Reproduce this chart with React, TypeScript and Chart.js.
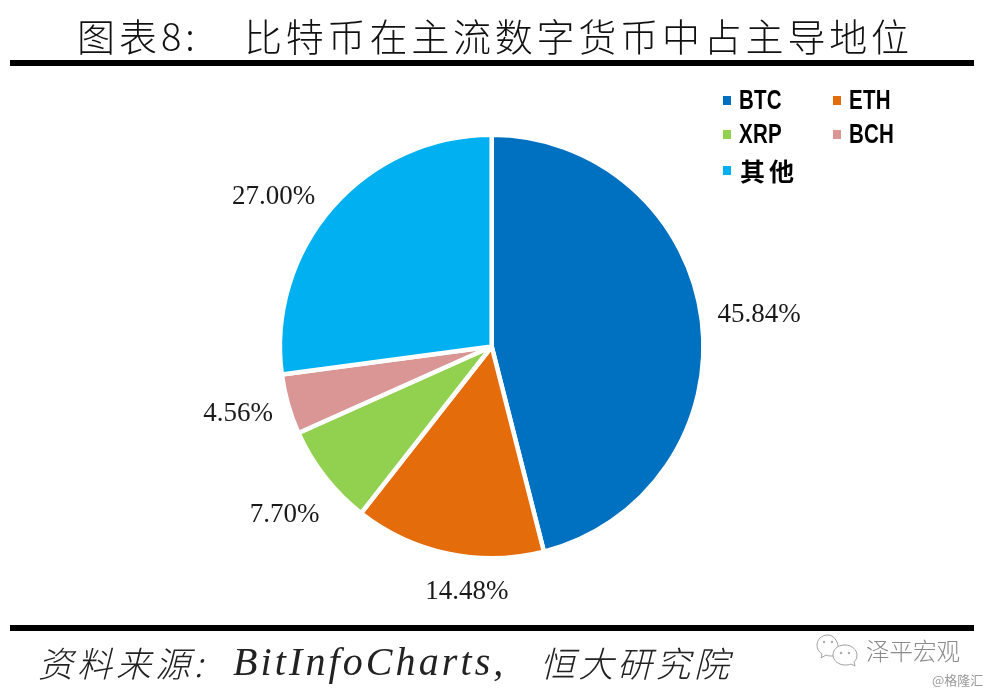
import React, { useEffect, useRef } from "react";
import { Chart, registerables } from "chart.js";

Chart.register(...registerables);

const categories = ["BTC", "ETH", "XRP", "BCH", "其他"];
const shares = [45.84, 14.48, 7.7, 4.56, 27.0];
const sliceColors = ["#0070C0", "#E46C0A", "#92D050", "#D99694", "#00B0F0"];

const titlePrefix = "图表8:";
const titleMain = "比特币在主流数字货币中占主导地位";
const sourceLead = "资料来源:";
const sourceName = "BitInfoCharts,";
const sourceTail = "恒大研究院";
const watermarkMain = "泽平宏观";
const watermarkSub = "@格隆汇";

const labelOffsets = [
  [5.5, 1],
  [29.5, -13],
  [1, 6],
  [0.5, -5],
  [-19.5, 24],
];

const sliceLabels = {
  id: "sliceLabels",
  afterDatasetsDraw(chart: any) {
    const { ctx } = chart;
    const arcs = chart.getDatasetMeta(0).data;
    ctx.save();
    ctx.font = '27px "Liberation Serif", serif';
    ctx.fillStyle = "#1a1a1a";
    ctx.textAlign = "center";
    ctx.textBaseline = "middle";
    arcs.forEach((arc: any, i: number) => {
      const mid = (arc.startAngle + arc.endAngle) / 2;
      const r = 264;
      const x = arc.x + Math.cos(mid) * r + labelOffsets[i][0];
      const y = arc.y + Math.sin(mid) * r + labelOffsets[i][1];
      ctx.fillText(shares[i].toFixed(2) + "%", x, y);
    });
    ctx.restore();
  },
};

const abs = (left: number, top: number, extra: React.CSSProperties = {}): React.CSSProperties => ({
  position: "absolute",
  left,
  top,
  whiteSpace: "nowrap",
  ...extra,
});

const legendSpots = [
  [723, 100],
  [833, 100],
  [723, 134],
  [833, 134],
  [723, 170],
];

export default function App() {
  const ref = useRef<HTMLCanvasElement>(null);
  useEffect(() => {
    document.body.style.margin = "0";
    document.body.style.background = "#fff";
    const chart = new Chart(ref.current as HTMLCanvasElement, {
      type: "pie",
      data: {
        labels: categories,
        datasets: [
          {
            data: shares,
            backgroundColor: sliceColors,
            borderColor: "#ffffff",
            borderWidth: 4.5,
            hoverOffset: 0,
          },
        ],
      },
      options: {
        animation: false,
        responsive: false,
        layout: { padding: { left: 277.7, right: 286.3, top: 132.5, bottom: 133.5 } },
        plugins: {
          legend: { display: false },
          tooltip: { enabled: false },
          title: { display: false },
        },
      },
      plugins: [sliceLabels],
    } as any);
    return () => chart.destroy();
  }, []);

  const cjk = '"Noto Sans CJK SC", sans-serif';
  return (
    <div style={{ position: "relative", width: 992, height: 694, overflow: "hidden", background: "#fff" }}>
      <canvas ref={ref} width={992} height={694} style={{ position: "absolute", left: 0, top: 0, display: "block" }} />

      <div style={abs(77, 10, { font: `200 38px/50px ${cjk}`, letterSpacing: 4, color: "#111" })}>{titlePrefix}</div>
      <div style={abs(244, 10, { font: `200 38px/50px ${cjk}`, letterSpacing: 3.8, color: "#111" })}>{titleMain}</div>
      <div style={abs(10, 60, { width: 964, height: 6, background: "#000" })} />
      <div style={abs(10, 625, { width: 964, height: 6, background: "#000" })} />

      <div style={abs(38, 637, { font: `italic 200 35px/50px ${cjk}`, letterSpacing: 4, color: "#222" })}>{sourceLead}</div>
      <div style={abs(233, 637, { font: `italic 40px/50px "Liberation Serif", serif`, letterSpacing: 3.1, color: "#222" })}>{sourceName}</div>
      <div style={abs(540, 637, { font: `italic 200 35px/50px ${cjk}`, letterSpacing: 3.5, color: "#222" })}>{sourceTail}</div>

      <svg style={abs(816, 634)} width={44} height={34} viewBox="0 0 44 34" fill="none" stroke="#a0a0a0" strokeWidth={1}>
        <path d="M12 1 C5 1 1 6 1 11 C1 15 3 18 6 20 L5 24 L10 21 C12 22 14 22 17 22 C26 22 23 1 12 1 Z" />
        <path d="M29 11 C21 11 17 16 17 21 C17 27 23 31 29 31 C31 31 33 31 35 30 L39 32 L38 28 C40 26 41 24 41 21 C41 16 36 11 29 11 Z" fill="#fff" />
        <circle cx={25} cy={19} r={0.8} fill="#a0a0a0" />
        <circle cx={33} cy={19} r={0.8} fill="#a0a0a0" />
        <circle cx={8} cy={8} r={0.8} fill="#a0a0a0" />
        <circle cx={16} cy={8} r={0.8} fill="#a0a0a0" />
      </svg>
      <div style={abs(866, 633, { font: `200 23.5px/34px ${cjk}`, color: "#8a8a8a" })}>{watermarkMain}</div>
      <div style={abs(932, 671, { font: `13px/18px ${cjk}`, color: "#999" })}>{watermarkSub}</div>

      {categories.map((c, i) => {
        const [x, y] = legendSpots[i];
        const isCjk = i === 4;
        return (
          <React.Fragment key={c}>
            <div style={abs(x, y - 4.5, { width: 8, height: 9, background: sliceColors[i] })} />
            <div
              style={abs(x + (isCjk ? 17 : 16), y - 16, {
                font: isCjk
                  ? `700 25px/32px ${cjk}`
                  : `700 27px/32px "Liberation Sans", sans-serif`,
                letterSpacing: isCjk ? 4 : 0.3,
                color: "#000",
                transform: isCjk ? undefined : "scaleX(0.76)",
                transformOrigin: "left center",
              })}
            >
              {c}
            </div>
          </React.Fragment>
        );
      })}
    </div>
  );
}
